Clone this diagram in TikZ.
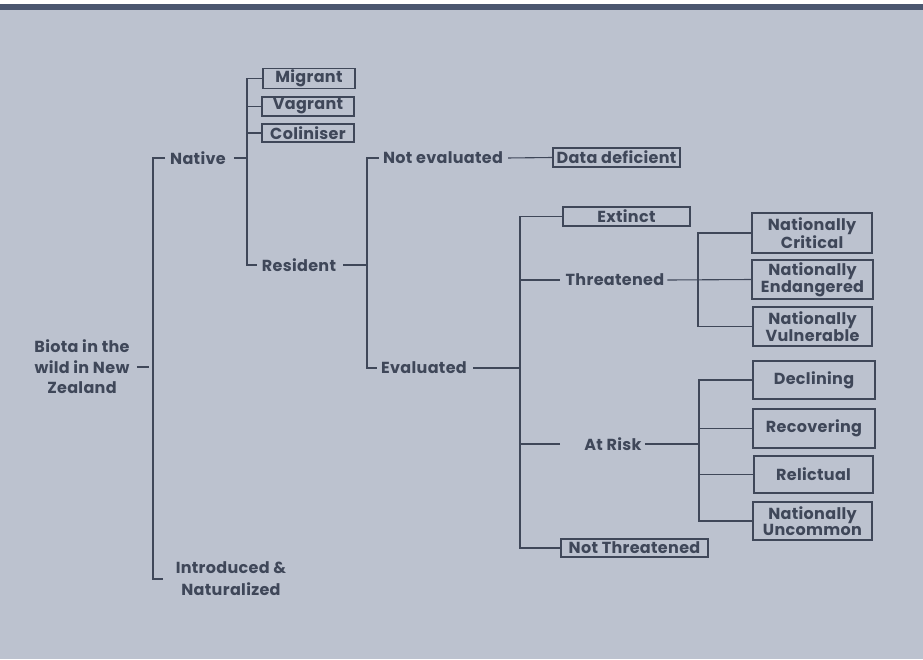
\documentclass[tikz,border=0pt]{standalone}
\usepackage{fontspec}
\setmainfont{Poppins}[LetterSpace=2]
\usetikzlibrary{positioning}
\definecolor{ink}{HTML}{3F4759}
\definecolor{paper}{HTML}{BCC2CF}
\definecolor{band}{HTML}{4C5770}

\begin{document}
\begin{tikzpicture}[
 x=1pt,y=-1pt,font=\fontsize{16}{16}\selectfont\bfseries,text=ink,
 cat/.style={draw=ink,line width=1.1pt,inner sep=1pt,align=center,font=\fontsize{16}{13.5}\selectfont\bfseries},
 lab/.style={inner sep=3pt,align=center},
 link/.style={draw=ink,line width=1.1pt}
]

\fill[white] (0,0) rectangle (923,659);
\fill[paper] (0,4) rectangle (923,659);
\fill[band] (0,4) rectangle (923,10);
\useasboundingbox (0,0) rectangle (923,659);

% left part
\node[lab,font=\fontsize{16}{20.5}\selectfont\bfseries] (biota) at (82,367) {Biota in the\\wild in New\\Zealand};
\node[lab] (native) at (198,158) {Native};
\node[lab,font=\fontsize{16}{22}\selectfont\bfseries] (intro) at (231,579) {Introduced \&\\Naturalized};
\coordinate (j1) at (153,367);
\draw[link] ([xshift=-2pt]native.west) -| (j1) |- ([xshift=-10pt]intro.west);
\draw[link,shorten <=4pt,shorten >=4pt] (biota.east) -- (j1);

% native
\node[cat,minimum width=92pt,minimum height=19pt] (mig) at (309,78.5) {Migrant};
\node[cat,minimum width=92pt,minimum height=19pt] (vag) at (308,106.5) {Vagrant};
\node[cat,minimum width=92pt,minimum height=18pt] (col) at (308,133) {Coliniser};
\node[lab] (res) at (299,265) {Resident};
\coordinate (j2) at (247,158);
\draw[link,shorten <=5pt] (native.east) -- (j2);
\draw[link] (mig.west) -| (j2) |- ([xshift=-2pt]res.west);
\draw[link] (vag.west) -- (vag.west -| j2);
\draw[link] (col.west) -- (col.west -| j2);

% resident
\node[lab] (nev) at (443,158) {Not evaluated};
\node[lab] (eva) at (424,368) {Evaluated};
\node[cat,minimum width=127pt,minimum height=19pt] (dd) at (616.5,157.5) {Data deficient};
\coordinate (j3) at (367,265);
\draw[link,shorten <=4pt] (res.east) -- (j3);
\draw[link] ([xshift=-1pt]nev.west) -| (j3) |- ([xshift=-1pt]eva.west);
\draw[link,shorten <=2pt] (nev.east) -- (dd.west);

% evaluated
\node[cat,minimum width=127pt,minimum height=19pt] (ext) at (626.5,216.5) {Extinct};
\node[lab] (thr) at (615,280) {Threatened};
\node[lab] (ark) at (613,444) {At Risk};
\node[cat,minimum width=147pt,minimum height=18pt] (nth) at (634.5,548) {Not Threatened};
\coordinate (j4) at (520,368);
\draw[link,shorten <=3pt] (eva.east) -- (j4);
\draw[link] (ext.west) -| (j4) |- (nth.west);
\draw[link,shorten <=3pt] (thr.west) -- (thr.west -| j4);
\draw[link,shorten <=21pt] (ark.west) -- (ark.west -| j4);

% threatened
\node[cat,minimum width=120pt,minimum height=40pt] (ncr) at (812,233) {Nationally\\Critical};
\node[cat,minimum width=121pt,minimum height=39pt] (nen) at (812.5,279.5) {Nationally\\Endangered};
\node[cat,minimum width=119pt,minimum height=39pt] (nvu) at (812.5,326.5) {Nationally\\Vulnerable};
\coordinate (j5) at (698,280);
\draw[link] (thr.east) -- (nen.west);
\draw[link] (ncr.west) -| (j5) |- (nvu.west);

% at risk
\node[cat,minimum width=122pt,minimum height=38pt] (dec) at (814,380) {Declining};
\node[cat,minimum width=122pt,minimum height=39pt] (rec) at (814,428.5) {Recovering};
\node[cat,minimum width=119pt,minimum height=37pt] (rel) at (813.5,474.5) {Relictual};
\node[cat,minimum width=119pt,minimum height=38pt] (nun) at (812.5,521) {Nationally\\Uncommon};
\coordinate (j6) at (699,444);
\draw[link] (ark.east) -- (j6);
\draw[link] (dec.west) -| (j6) |- (nun.west);
\draw[link] (rec.west) -- (rec.west -| j6);
\draw[link] (rel.west) -- (rel.west -| j6);
\end{tikzpicture}
\end{document}
